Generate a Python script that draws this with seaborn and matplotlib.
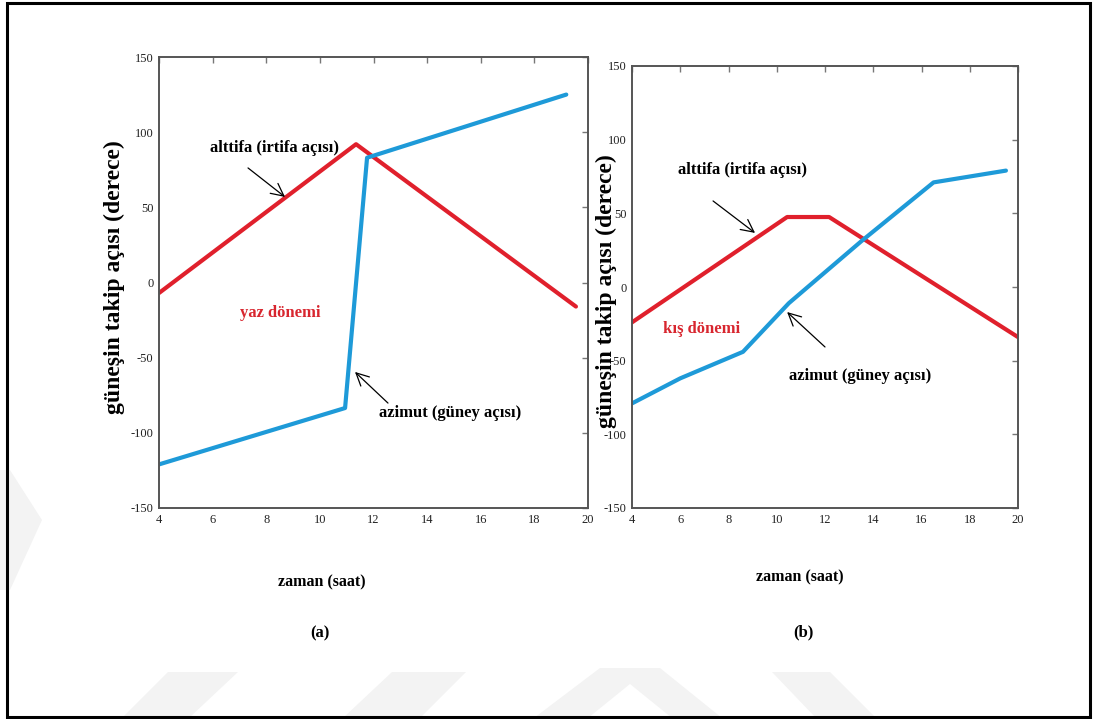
import matplotlib
matplotlib.use("Agg")
import matplotlib.pyplot as plt
from matplotlib.patches import Rectangle, Polygon
import seaborn as sns
import pandas as pd

# ---- data ----
summer_hours_alt = [4, 11.35, 19.55]
summer_alt = [-7, 92, -16]
summer_hours_az = [4, 10.94, 11.76, 19.19]
summer_az = [-121, -83.5, 83, 125]

winter_hours_alt = [4, 10.43, 12.17, 20]
winter_alt = [-24, 47.5, 47.5, -34]
winter_hours_az = [4, 6, 8.6, 10.5, 13.5, 16.5, 19.5]
winter_az = [-79, -62, -44, -11, 31, 71, 79]

x_ticks = [4, 6, 8, 10, 12, 14, 16, 18, 20]
y_ticks = [-150, -100, -50, 0, 50, 100, 150]

RED = "#e0202c"
RED_TXT = "#d8262f"
BLUE = "#1e9ad8"

sns.set_style("white")
plt.rcParams["font.family"] = ["Liberation Serif", "DejaVu Serif"]

W, H = 1097, 719
fig = plt.figure(figsize=(W / 100, H / 100), dpi=100)
fig.patch.set_facecolor("white")

# faint watermark shapes
wm = "#f3f3f3"
def fpoly(pts):
    fig.patches.append(Polygon([(x / W, 1 - y / H) for x, y in pts], closed=True,
                               transform=fig.transFigure, facecolor=wm, edgecolor="none", zorder=0))
fpoly([(0, 470), (10, 470), (42, 520), (10, 590), (0, 590)])
fpoly([(168, 672), (238, 672), (189, 718), (122, 718)])
fpoly([(392, 672), (466, 672), (420, 718), (343, 718)])
fpoly([(600, 668), (660, 668), (722, 718), (672, 718), (630, 684), (588, 718), (534, 718)])
fpoly([(772, 672), (830, 672), (876, 718), (816, 718)])

# outer frame
fig.patches.append(Rectangle((7 / W, 2 / H), (1090 - 7) / W, (716 - 2) / H, transform=fig.transFigure,
                             fill=False, edgecolor="black", lw=2.2, zorder=5))


def style_axes(ax):
    ax.set_xlim(4, 20)
    ax.set_ylim(-150, 150)
    ax.set_xticks(x_ticks)
    ax.set_yticks(y_ticks)
    ax.set_xticklabels([str(t) for t in x_ticks])
    ax.set_yticklabels([str(t) for t in y_ticks])
    ax.tick_params(direction="in", length=4, width=1, color="#777777",
                   top=True, right=True, labelsize=9, labelcolor="#222222", pad=4)
    for s in ax.spines.values():
        s.set_color("#555555")
        s.set_linewidth(1.4)
        s.set_visible(True)
    ax.set_xlabel("")
    ax.set_ylabel("")
    ax.set_facecolor("white")


LW = 3.0
TS = 12

# ---- left: summer ----
axL = fig.add_axes([159 / W, 1 - 508 / H, (588 - 159) / W, (508 - 57) / H])
sns.lineplot(x=summer_hours_alt, y=summer_alt, ax=axL, color=RED, lw=LW, sort=False, estimator=None)
sns.lineplot(x=summer_hours_az, y=summer_az, ax=axL, color=BLUE, lw=LW, sort=False, estimator=None)
style_axes(axL)

arrow = dict(arrowstyle="->,head_length=0.9,head_width=0.45", lw=0.9, color="black", shrinkA=0, shrinkB=0)
axL.text(8.29, 89.5, "alttifa (irtifa açısı)", ha="center", va="center", fontsize=TS,
         fontweight="bold", color="black")
axL.annotate("", xy=(8.70, 56.9), xytext=(7.32, 76.2), arrowprops=arrow)
axL.text(8.53, -20.3, "yaz dönemi", ha="center", va="center", fontsize=TS,
         fontweight="bold", color=RED_TXT)
axL.text(14.85, -86.8, "azimut (güney açısı)", ha="center", va="center", fontsize=TS,
         fontweight="bold", color="black")
axL.annotate("", xy=(11.31, -59.5), xytext=(12.54, -80.2), arrowprops=arrow)

# ---- right: winter ----
axR = fig.add_axes([632 / W, 1 - 508 / H, (1018 - 632) / W, (508 - 66) / H])
sns.lineplot(x=winter_hours_alt, y=winter_alt, ax=axR, color=RED, lw=LW, sort=False, estimator=None)
sns.lineplot(x=winter_hours_az, y=winter_az, ax=axR, color=BLUE, lw=LW, sort=False, estimator=None)
style_axes(axR)

axR.text(8.56, 79.4, "alttifa (irtifa açısı)", ha="center", va="center", fontsize=TS,
         fontweight="bold", color="black")
axR.annotate("", xy=(9.10, 36.7), xytext=(7.36, 58.4), arrowprops=arrow)
axR.text(6.90, -28.5, "kış dönemi", ha="center", va="center", fontsize=TS,
         fontweight="bold", color=RED_TXT)
axR.text(13.47, -60.4, "azimut (güney açısı)", ha="center", va="center", fontsize=TS,
         fontweight="bold", color="black")
axR.annotate("", xy=(10.43, -17), xytext=(12.0, -40.7), arrowprops=arrow)

# ---- shared labels ----
fig.text(114 / W, 1 - 277 / H, "güneşin takip açısı (derece)", rotation=90, ha="center", va="center",
         fontsize=17, fontweight="bold", color="black")
fig.text(606 / W, 1 - 291 / H, "güneşin takip açısı (derece)", rotation=90, ha="center", va="center",
         fontsize=17, fontweight="bold", color="black")

fig.text(322 / W, 1 - 582 / H, "zaman (saat)", ha="center", va="center", fontsize=11.5,
         fontweight="bold", color="black")
fig.text(800 / W, 1 - 577 / H, "zaman (saat)", ha="center", va="center", fontsize=11.5,
         fontweight="bold", color="black")
fig.text(320 / W, 1 - 633 / H, "(a)", ha="center", va="center", fontsize=12,
         fontweight="bold", color="black")
fig.text(803 / W, 1 - 632 / H, "(b)", ha="center", va="center", fontsize=12,
         fontweight="bold", color="black")

fig.savefig("out.png", dpi=100, facecolor="white")
